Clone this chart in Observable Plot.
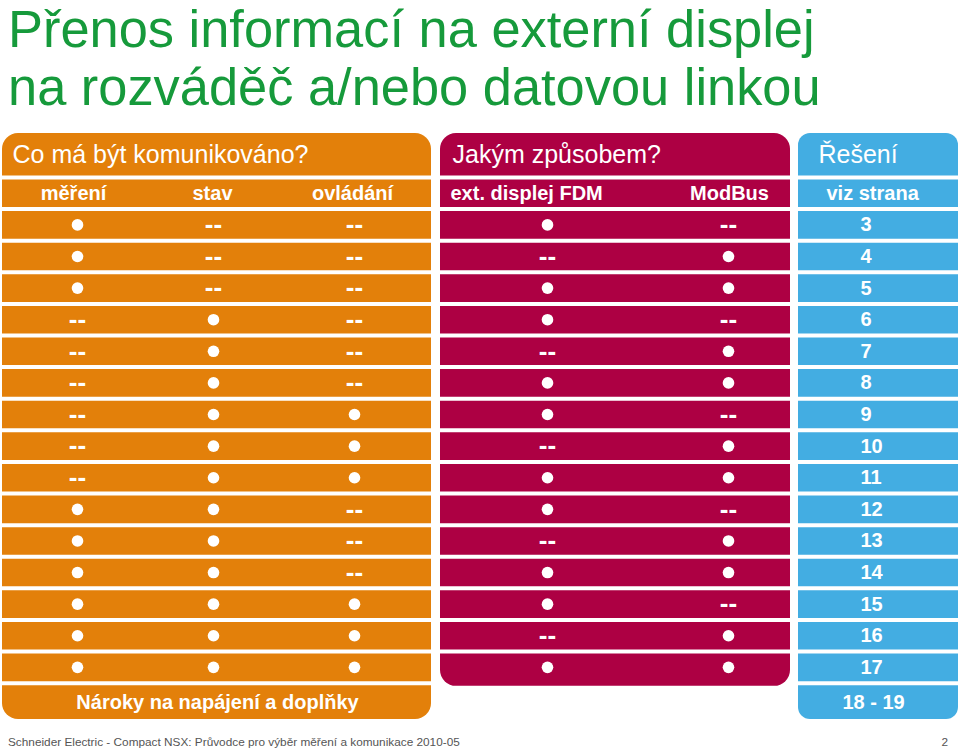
<!DOCTYPE html>
<html>
<head>
<meta charset="utf-8">
<script src="https://cdn.jsdelivr.net/npm/d3@7"></script>
<script src="https://cdn.jsdelivr.net/npm/@observablehq/plot@0.6"></script>
<style>
  body { margin: 0; background: #fff; font-family: "Liberation Sans", Arial, sans-serif; }
  #title { font-size: 52.4px; line-height: 58px; color: #169a3b; padding-left: 8px; height: 125px; white-space: nowrap; }
  #chart svg { display: block; }
  #caption { display: flex; justify-content: space-between; font-size: 11.8px; line-height: 15px; color: #555; padding: 5px 12px 0 8px; }
</style>
</head>
<body>
<div id="title">Přenos informací na externí displej<br>na rozváděč a/nebo datovou linkou</div>
<div id="chart"></div>
<div id="caption"><span>Schneider Electric - Compact NSX: Průvodce pro výběr měření a komunikace 2010-05</span><span>2</span></div>
<script>
// ---- data ----
const groupTitles  = ["Co má být komunikováno?", "Jakým způsobem?", "Řešení"];
const columnLabels = ["měření", "stav", "ovládání", "ext. displej FDM", "ModBus", "viz strana"];
const pages    = ["3","4","5","6","7","8","9","10","11","12","13","14","15","16","17"];
const mereni   = [1,1,1,0,0,0,0,0,0,1,1,1,1,1,1];
const stav     = [0,0,0,1,1,1,1,1,1,1,1,1,1,1,1];
const ovladani = [0,0,0,0,0,0,1,1,1,0,0,0,1,1,1];
const fdm      = [1,0,1,1,0,1,1,0,1,1,0,1,1,0,1];
const modbus   = [0,1,1,0,1,1,0,1,1,0,1,1,0,1,1];
const footerLabels = ["Nároky na napájení a doplňky", "18 - 19"];

// ---- layout (positions & styles) ----
const blockStyle = [
  {x1: 2,   x2: 431, last: 17, bottom: 17.15, fill: "#e3800a", r: 16, titleX: 12},
  {x1: 440, x2: 790, last: 16, bottom: 16.1,  fill: "#ad0043", r: 16, titleX: 452},
  {x1: 798, x2: 958, last: 17, bottom: 17.15, fill: "#43ade2", r: 12, titleX: 818}
];
const colStyle = [
  {x: 77,  labelX: 73,  anchor: "middle"},
  {x: 213, labelX: 212, anchor: "middle"},
  {x: 354, labelX: 352, anchor: "middle"},
  {x: 547, labelX: 450, anchor: "start"},
  {x: 728, labelX: 729, anchor: "middle"},
  {x: 860, labelX: 826, anchor: "start"}
];
const footerX = [217, 873];
const HEAD_TOP = -1.392;
const BOTTOM = 17.15;

// ---- tables built from data ----
const blocks = groupTitles.map((t, i) => ({title: t, ...blockStyle[i]}));
const values = [mereni, stav, ovladani, fdm, modbus];
const cells = [];
pages.forEach((p, k) => values.forEach((v, j) => cells.push({row: k + 1, col: j, on: v[k] === 1})));
const pageCells = pages.map((p, k) => ({row: k + 1, page: p}));
const headers = columnLabels.map((l, j) => ({label: l, ...colStyle[j]}));
const footers = footerLabels.map((l, i) => ({label: l, x: footerX[i]}));
const seps = [];
blocks.forEach(b => { for (let y = 0; y < b.last; y++) seps.push({y, x1: b.x1, x2: b.x2}); });

const font = "Liberation Sans, Arial, sans-serif";
const txt = {fill: "white", fontSize: 20, fontWeight: "bold"};
const chart = Plot.plot({
  width: 960,
  height: 605,
  margin: 0,
  x: {type: "linear", domain: [0, 960], range: [0, 960], axis: null},
  y: {type: "linear", domain: [HEAD_TOP, BOTTOM], range: [8, 594], axis: null},
  color: {type: "identity"},
  style: {fontFamily: font, background: "white"},
  marks: [
    Plot.rect(blocks.filter(b => b.r === 16), {x1: "x1", x2: "x2", y1: () => HEAD_TOP, y2: "bottom", fill: "fill", rx: 16}),
    Plot.rect(blocks.filter(b => b.r !== 16), {x1: "x1", x2: "x2", y1: () => HEAD_TOP, y2: "bottom", fill: "fill", rx: 12}),
    Plot.ruleY(seps, {y: "y", x1: "x1", x2: "x2", stroke: "white", strokeWidth: 4}),
    Plot.text(blocks, {x: "titleX", y: () => HEAD_TOP / 2, text: "title", textAnchor: "start", fill: "white", fontSize: 25}),
    Plot.text(headers.filter(h => h.anchor === "middle"), {x: "labelX", y: () => 0.5, text: "label", textAnchor: "middle", ...txt}),
    Plot.text(headers.filter(h => h.anchor === "start"), {x: "labelX", y: () => 0.5, text: "label", textAnchor: "start", ...txt}),
    Plot.dot(cells.filter(d => d.on), {x: d => colStyle[d.col].x, y: d => d.row + 0.5, r: 5.8, fill: "white"}),
    Plot.text(cells.filter(d => !d.on), {x: d => colStyle[d.col].x, y: d => d.row + 0.5, text: () => "--", fill: "white", fontSize: 26, fontWeight: "bold"}),
    Plot.text(pageCells, {x: () => colStyle[5].x, y: d => d.row + 0.5, text: "page", textAnchor: "start", ...txt}),
    Plot.text(footers, {x: "x", y: () => 16.6, text: "label", ...txt})
  ]
});
document.getElementById("chart").appendChild(chart);
</script>
</body>
</html>
